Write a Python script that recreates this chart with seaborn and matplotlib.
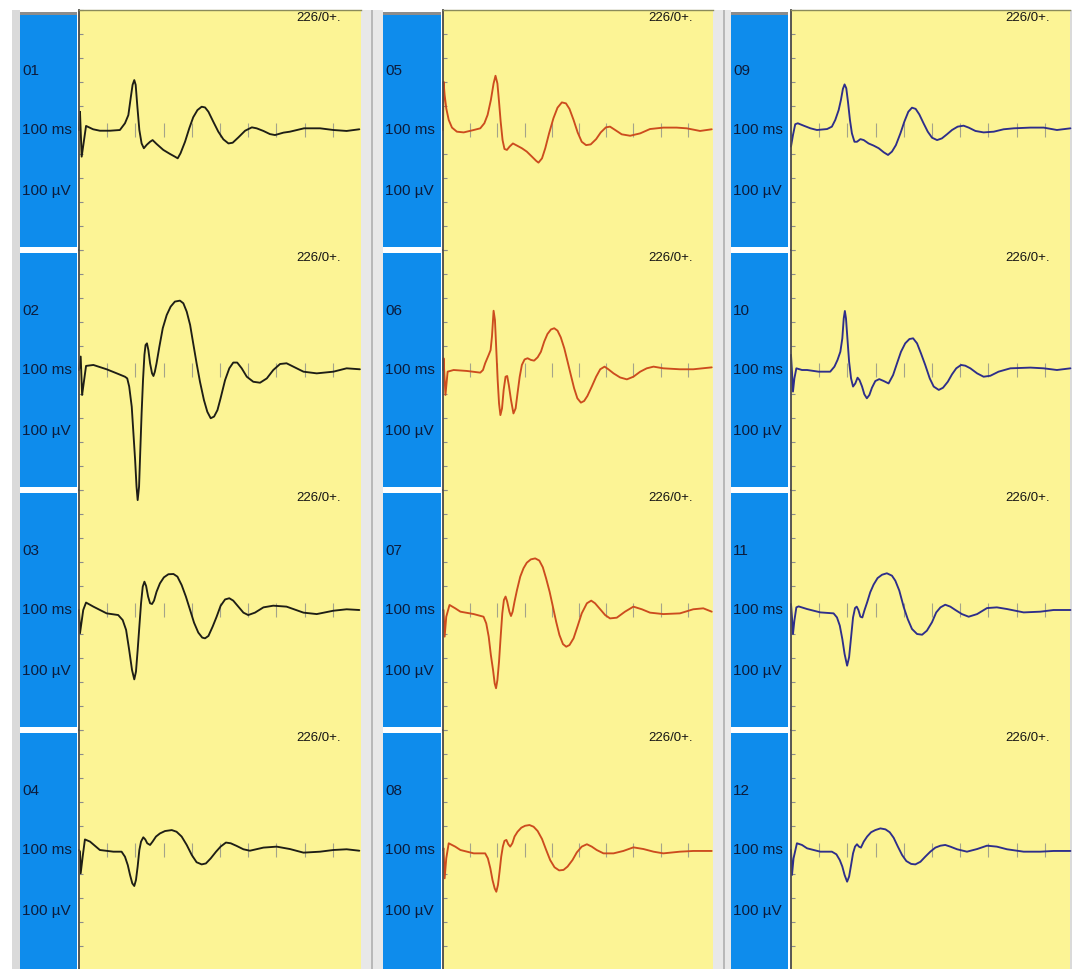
import matplotlib
matplotlib.use("Agg")
import matplotlib.pyplot as plt
import seaborn as sns
from matplotlib.patches import Rectangle

# ---------------- data (time in ms, amplitude in µV) ----------------
CHANNELS = ["01", "02", "03", "04", "05", "06", "07", "08", "09", "10", "11", "12"]
TIME_LABEL = "100 ms"
AMP_LABEL = "100 µV"
STIM_LABEL = "226/0+."
GRID_TIMES = [10, 20, 30, 40, 50, 60, 70, 80, 90]
AMP_TICKS = [-500, -400, -300, -200, -100, 100, 200, 300, 400, 500]

T01 = [0, 0.35, 0.95, 2.5, 5, 7.4, 11, 14.5, 16.3, 17.5, 18.4, 19.0, 19.6, 20.1, 20.7, 21.4, 22.2, 23.0, 24.0, 25.2,
       26.1, 27.5, 29.9, 32.3, 34.0, 35.0, 36.0, 37.6, 39.1, 40.5, 42.0, 43.5, 44.7, 45.9, 47.6, 49.4, 51.2, 53.0, 54.5,
       56.5, 58.9, 61.3, 63.0, 65.4, 67.7, 69.5, 72.5, 74.8, 79.8, 85.5, 90.2, 94.9, 99.4]
V01 = [0, 76, -111, 17, 3, -3, -3, 0, 28, 62, 139, 188, 208, 188, 97, 0, -56, -76, -62, -49,
       -42, -58, -83, -100, -111, -118, -97, -49, 7, 53, 83, 97, 94, 76, 35, -7, -39, -56, -53,
       -31, -3, 11, 7, -4, -17, -21, -11, -7, 7, 7, 0, -4, 3]

T02 = [0, 0.6, 1.1, 2.5, 5.1, 9.8, 13.4, 16.3, 17.1, 17.8, 18.7, 19.3, 19.9, 20.4, 20.8, 21.3, 21.7, 22.2, 22.7, 23.2,
       23.6, 24.1, 24.6, 25.2, 25.9, 26.4, 26.9, 27.5, 28.5, 29.7, 31.1, 32.5, 34.0, 35.8, 37.0, 38.2, 39.4, 40.5, 41.7,
       42.9, 44.3, 45.5, 46.7, 47.9, 49.1, 50.2, 51.8, 53.3, 54.7, 56.1, 57.7, 59.5, 61.8, 64.2, 66.6, 68.9, 71.3, 73.6,
       76.0, 79.6, 84.3, 90.2, 94.9, 99.6]
V02 = [0, 56, -104, 17, 21, 3, -14, -28, -35, -69, -153, -264, -375, -486, -542, -486, -347, -181, -42, 63,
       104, 111, 83, 28, -14, -25, -7, 28, 97, 174, 229, 264, 285, 289, 278, 243, 188, 111, 28,
       -49, -125, -174, -201, -194, -167, -118, -42, 7, 31, 31, 7, -28, -49, -53, -35, 0, 25, 28,
       14, -7, -14, -7, 7, 3]

T03 = [0, 0.35, 1.5, 2.5, 5.1, 9.8, 13.9, 15.5, 16.7, 17.8, 18.8, 19.6, 20.2, 20.8, 21.4, 22.0, 22.6, 23.2, 23.8, 24.5,
       25.2, 25.9, 26.6, 27.5, 28.7, 30.1, 31.7, 33.5, 34.9, 36.4, 37.9, 39.4, 40.8, 42.3, 43.7, 44.7, 45.9, 47.4, 48.8,
       50.2, 51.8, 53.3, 54.7, 56.5, 58.3, 60.0, 62.4, 65.4, 68.9, 73.6, 79.6, 84.3, 90.2, 94.9, 99.4]
V03 = [0, -97, 0, 31, 14, -14, -21, -42, -83, -167, -250, -289, -257, -167, -69, 28, 97, 118, 100, 56,
       28, 25, 39, 76, 111, 136, 149, 150, 139, 104, 56, 0, -53, -94, -115, -118, -108, -69, -28,
       17, 44, 49, 39, 14, -11, -21, -11, 11, 18, 14, -11, -17, -3, 3, 0]

T04 = [0, 0.35, 0.6, 1.3, 2.1, 3.9, 7.4, 12.2, 15.1, 16.3, 17.3, 18.1, 18.9, 19.6, 20.2, 20.8, 21.4, 22.0, 22.8, 23.5,
       24.2, 25.2, 26.1, 27.3, 28.7, 30.5, 32.9, 34.6, 36.4, 38.2, 40.0, 41.7, 43.5, 45.0, 46.7, 48.6, 50.2, 52.1, 53.8,
       55.9, 58.3, 60.6, 65.4, 70.1, 74.8, 79.6, 85.5, 90.2, 94.9, 99.4]
V04 = [0, -7, -97, -28, 44, 35, 0, -7, -7, -28, -63, -104, -139, -150, -125, -69, 0, 35, 53, 44,
       28, 21, 35, 56, 69, 79, 83, 76, 56, 21, -21, -51, -60, -56, -35, -7, 14, 31, 28,
       17, 3, -3, 10, 14, 4, -11, -7, 0, 3, -3]

T05 = [0, 0.2, 0.6, 1.2, 2.1, 3.3, 5.1, 7.6, 11.3, 13.7, 15.2, 16.4, 17.6, 18.6, 19.3, 20.0, 20.6, 21.2, 21.9, 22.6,
       23.5, 24.5, 25.7, 27.2, 29.0, 30.8, 32.7, 34.3, 35.1, 36.4, 37.6, 39.0, 40.6, 42.1, 43.7, 45.2, 46.5, 48.0, 49.5,
       51.0, 52.6, 54.3, 56.3, 58.0, 59.9, 61.4, 63.3, 65.7, 68.8, 72.5, 76.1, 81.0, 85.9, 89.6, 94.5, 98.8]
V05 = [0, 201, 146, 90, 42, 10, -7, -10, 0, 7, 28, 63, 125, 194, 226, 194, 118, 35, -42, -79,
       -83, -69, -56, -65, -76, -90, -111, -129, -136, -118, -76, -14, 49, 93, 115, 111, 88, 42, -10,
       -49, -63, -60, -38, -10, 11, 14, 0, -18, -24, -14, 4, 10, 10, 7, -4, 3]

T06 = [0, 0.2, 0.9, 1.7, 3.9, 8.8, 13.7, 14.7, 15.5, 16.8, 17.5, 18.0, 18.6, 19.1, 19.6, 20.1, 20.6, 21.1, 21.7, 22.3,
       23.0, 23.6, 24.2, 25.0, 25.9, 26.7, 27.4, 28.2, 29.0, 30.0, 31.1, 32.3, 33.5, 34.8, 36.0, 37.2, 38.4, 39.7, 40.9,
       42.1, 43.3, 44.6, 45.8, 47.0, 48.2, 49.4, 50.7, 51.9, 53.1, 54.7, 56.3, 57.8, 59.4, 60.8, 62.7, 65.1, 67.6, 70.0,
       72.5, 74.9, 77.4, 81.0, 87.1, 92.0, 98.8]
V06 = [0, 49, -104, -7, 0, -4, -11, 0, 28, 63, 83, 139, 247, 208, 83, -42, -139, -188, -160, -83,
       -28, -25, -63, -125, -181, -160, -97, -28, 21, 44, 49, 42, 39, 53, 76, 118, 150, 169, 174,
       164, 136, 90, 35, -21, -76, -118, -136, -129, -108, -69, -28, 3, 14, 3, -14, -31, -39, -28,
       -7, 7, 14, 7, 3, 3, 11]

T07 = [0, 0.2, 0.6, 1.2, 2.4, 4.5, 6.4, 11.3, 14.9, 15.9, 16.8, 17.6, 18.4, 19.0, 19.5, 20.0, 20.6, 21.2, 21.8, 22.4,
       23.0, 23.6, 24.4, 25.0, 25.6, 26.3, 27.2, 28.4, 29.6, 30.8, 32.3, 33.9, 35.4, 36.7, 37.9, 39.2, 40.4, 41.6, 42.8,
       44.1, 45.3, 46.5, 48.0, 49.5, 51.0, 52.9, 54.5, 55.9, 57.8, 59.6, 61.4, 63.9, 66.9, 70.0, 73.1, 76.1, 81.0, 87.1,
       92.0, 95.7, 98.8]
V07 = [0, 0, -111, -28, 21, 7, -7, -17, -28, -56, -111, -188, -250, -306, -326, -292, -215, -111, -14, 42,
       56, 35, -7, -25, -7, 35, 83, 139, 174, 197, 211, 215, 206, 178, 132, 76, 14, -49, -104,
       -142, -153, -146, -118, -67, -14, 28, 39, 28, 3, -21, -35, -32, -7, 14, 3, -11, -17, -14,
       3, 7, -7]

T08 = [0, 0.2, 0.6, 1.2, 2.1, 4.5, 6.4, 11.3, 15.5, 16.5, 17.4, 18.2, 19.0, 19.6, 20.2, 20.8, 21.4, 22.0, 22.6, 23.3,
       24.0, 24.7, 25.5, 26.3, 27.4, 28.8, 30.2, 31.8, 33.3, 34.8, 36.4, 37.8, 39.4, 41.0, 42.7, 44.3, 45.8, 47.6, 49.2,
       51.0, 52.9, 54.7, 56.5, 59.0, 62.7, 66.3, 70.0, 73.7, 77.4, 81.0, 87.1, 92.0, 98.8]
V08 = [0, 7, -118, -35, 28, 14, 0, -14, -14, -35, -76, -125, -160, -174, -146, -90, -28, 14, 38, 42,
       24, 14, 28, 56, 76, 93, 101, 104, 97, 79, 46, 4, -42, -72, -85, -83, -69, -42, -10,
       14, 24, 14, 0, -14, -14, -4, 11, 4, -7, -14, -7, -4, -4]

T09 = [0, 0.7, 1.5, 2.4, 4.5, 6.9, 9.2, 12.8, 14.5, 15.7, 16.9, 17.7, 18.4, 19.0, 19.6, 20.2, 20.9, 21.6, 22.5, 23.4,
       24.6, 25.8, 27.5, 29.3, 31.1, 32.9, 34.4, 35.8, 37.2, 38.8, 40.2, 41.6, 42.9, 44.2, 45.5, 47.0, 48.5, 50.0, 51.8,
       53.5, 55.3, 57.1, 59.1, 61.2, 63.0, 65.4, 68.3, 71.9, 75.4, 79.0, 84.9, 89.6, 94.3, 99.1]
V09 = [-69, -21, 24, 28, 18, 7, 0, 4, 14, 42, 83, 125, 171, 190, 174, 118, 42, -14, -49, -49,
       -38, -42, -56, -65, -76, -93, -104, -90, -63, -14, 35, 76, 93, 88, 65, 28, -7, -32, -42,
       -35, -18, 0, 14, 18, 10, -4, -10, -7, 3, 7, 10, 10, 0, 7]

T10 = [0, 0.35, 0.7, 1.2, 1.9, 3.9, 5.7, 9.8, 13.9, 15.4, 16.5, 17.5, 18.2, 18.7, 19.1, 19.5, 20.0, 20.6, 21.3, 22.0,
       22.8, 23.6, 24.3, 25.2, 26.0, 26.9, 27.8, 28.7, 29.9, 31.3, 32.9, 34.6, 36.2, 37.6, 39.0, 40.5, 42.0, 43.3, 44.7,
       46.1, 47.6, 49.2, 50.6, 52.4, 53.9, 55.6, 57.1, 58.6, 60.3, 61.8, 63.6, 66.0, 68.3, 70.7, 73.6, 77.8, 84.9, 89.6,
       94.3, 99.1]
V10 = [63, -7, -90, -35, 7, 0, 0, -7, -7, 14, 42, 76, 132, 215, 246, 215, 132, 35, -35, -69,
       -56, -32, -42, -69, -101, -118, -104, -74, -46, -38, -46, -56, -21, 28, 76, 111, 129, 132, 111,
       69, 21, -35, -69, -83, -74, -49, -18, 7, 21, 18, 7, -14, -28, -24, -7, 7, 10, 7,
       0, 7]

T11 = [0, 0.35, 0.7, 1.2, 1.9, 2.7, 5.7, 10.4, 15.1, 16.3, 17.3, 18.2, 19.0, 19.9, 20.6, 21.3, 22.0, 22.7, 23.3, 23.9,
       24.6, 25.3, 26.0, 27.0, 28.1, 29.3, 30.7, 32.3, 34.0, 35.8, 37.0, 38.4, 40.0, 41.4, 42.9, 44.7, 46.5, 48.2, 50.0,
       51.5, 53.0, 54.7, 56.5, 58.3, 60.6, 63.0, 66.0, 69.5, 73.0, 76.6, 82.5, 88.4, 93.1, 99.1]
V11 = [25, -31, -100, -44, 11, 15, 4, -10, -14, -31, -65, -121, -183, -232, -197, -114, -31, 8, 14, 0,
       -28, -31, -3, 32, 74, 106, 133, 147, 153, 143, 122, 81, 11, -38, -79, -100, -103, -86, -51,
       -10, 11, 22, 14, 0, -17, -28, -17, 8, 11, 4, -10, -7, 0, 0]

T12 = [0, 0.35, 0.9, 2.1, 3.9, 5.7, 10.4, 14.5, 16.1, 17.3, 18.2, 19.0, 19.9, 20.6, 21.3, 22.0, 22.7, 23.4, 24.1, 24.8,
       25.8, 27.0, 28.4, 29.9, 31.7, 33.5, 35.0, 36.4, 37.9, 39.4, 40.9, 42.6, 44.1, 45.9, 47.6, 49.4, 51.2, 53.0, 54.7,
       56.5, 58.9, 62.4, 66.0, 69.5, 73.0, 76.6, 82.5, 88.4, 93.1, 99.1]
V12 = [0, -104, -35, 28, 21, 7, -7, -7, -18, -42, -69, -104, -132, -111, -63, -14, 14, 24, 14, 10,
       35, 56, 74, 83, 90, 86, 74, 51, 14, -21, -46, -58, -60, -49, -28, -7, 10, 18, 21,
       14, 3, -7, 4, 18, 14, 3, -7, -7, -4, -4]

TRACES = [(T01, V01), (T02, V02), (T03, V03), (T04, V04),
          (T05, V05), (T06, V06), (T07, V07), (T08, V08),
          (T09, V09), (T10, V10), (T11, V11), (T12, V12)]

# ---------------- style / layout ----------------
sns.set_theme(style="white")
FONT = ["Liberation Sans", "DejaVu Sans"]
plt.rcParams["font.family"] = FONT

W, H = 1072, 969
YELLOW = "#fcf495"
BLUE = "#0e8cec"
TEXT_DARK = "#0c1c3c"
TRACE_COLORS = ["#1e1e16", "#cc4c1e", "#2e2e8a"]

# (blue x0, blue x1, plot x0, plot x1, px per ms) for the three columns
COLS = [(20, 77, 79, 361, 2.82), (383, 441, 443, 713, 2.72), (731, 788, 791, 1070, 2.82)]
ROW_TOP, ROW_H = 10, 240


def box(x0, y0, x1, y1):
    return [x0 / W, 1 - y1 / H, (x1 - x0) / W, (y1 - y0) / H]


fig = plt.figure(figsize=(W / 100, H / 100), dpi=100, facecolor="white")


def frect(x0, y0, x1, y1, color, z=0):
    fig.patches.append(Rectangle((x0 / W, 1 - y1 / H), (x1 - x0) / W, (y1 - y0) / H,
                                 transform=fig.transFigure, facecolor=color, edgecolor="none",
                                 zorder=z))


# window frame pieces
frect(12, 10, 20, H, "#dadada")
frect(361, 10, 383, H, "#e8e8e8")
frect(371, 10, 373, H, "#b8b8b8")
frect(713, 10, 731, H, "#e8e8e8")
frect(723, 10, 725, H, "#b8b8b8")
frect(1070, 10, W, H, "#dadada")
for c in range(3):
    bx0, bx1 = COLS[c][0], COLS[c][1]
    frect(bx0, 12, bx1, 15, "#8c8c8c")

for c, (bx0, bx1, px0, px1, pxms) in enumerate(COLS):
    for r in range(4):
        idx = 4 * c + r
        top = ROW_TOP + r * ROW_H
        bot = top + ROW_H

        # ---- yellow trace panel ----
        ax = fig.add_axes(box(px0, top, px1, bot))
        ax.set_zorder(10 - r)
        ax.set_facecolor(YELLOW)
        t, v = TRACES[idx]
        sns.lineplot(x=t, y=v, ax=ax, color=TRACE_COLORS[c], linewidth=1.35,
                     sort=False, estimator=None, legend=False)
        for ln in ax.lines:
            ln.set_clip_on(False)
            ln.set_solid_joinstyle("round")
        ax.set_xlim(0, (px1 - px0) / pxms)
        ax.set_ylim(-500, 500)
        ax.set_xlabel("")
        ax.set_ylabel("")
        for s in ("right", "bottom"):
            ax.spines[s].set_visible(False)
        ax.spines["top"].set_visible(r == 0)
        ax.spines["top"].set_color("#8a8a5a")
        ax.spines["top"].set_linewidth(1.0)
        ax.spines["left"].set_color("#4a4a4a")
        ax.spines["left"].set_linewidth(1.3)
        ax.spines["bottom"].set_position(("data", 0))
        ax.set_xticks(GRID_TIMES)
        ax.set_yticks(AMP_TICKS)
        ax.tick_params(axis="x", which="both", direction="inout", length=10, width=0.8,
                       color="#a4a48a", bottom=True, labelbottom=False)
        ax.tick_params(axis="y", which="both", direction="in", length=3, width=0.8,
                       color="#8c8c8c", left=True, labelleft=False)
        ax.grid(False)
        wpx = px1 - px0
        ax.text(1 - 20 / wpx, 1 - 8 / ROW_H, STIM_LABEL, transform=ax.transAxes,
                ha="right", va="center", fontsize=9.5, color="#141414", family=FONT)

        # ---- blue label panel ----
        btop = top + (5 if r == 0 else 3)
        bbot = top + 237 if r < 3 else H + 2
        bax = fig.add_axes(box(bx0, btop, bx1, bbot))
        bax.set_facecolor(BLUE)
        bax.set_xticks([])
        bax.set_yticks([])
        for s in bax.spines.values():
            s.set_visible(False)
        for off, label in ((61, CHANNELS[idx]), (120, TIME_LABEL), (181, AMP_LABEL)):
            fig.text((bx0 + 2) / W, 1 - (top + off) / H, label, ha="left", va="center",
                     fontsize=11, color=TEXT_DARK, family=FONT, zorder=20)

fig.savefig("out.png", dpi=100, facecolor=fig.get_facecolor())
